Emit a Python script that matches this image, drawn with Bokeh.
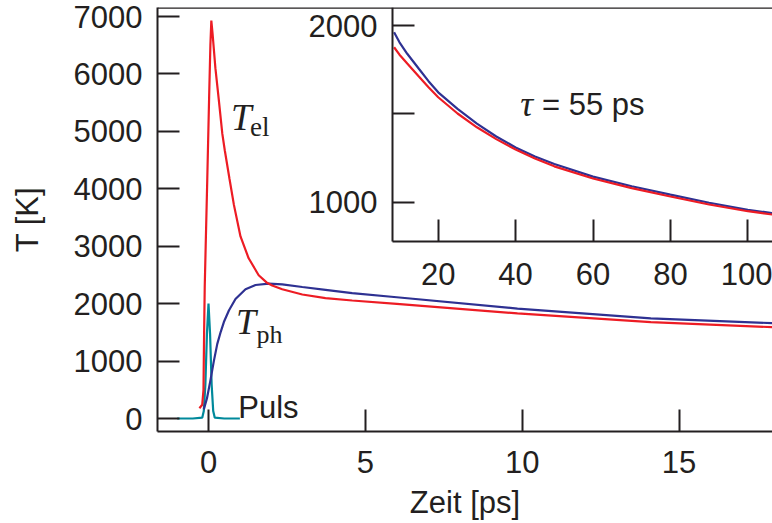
from bokeh.plotting import figure
from bokeh.models import Range1d, LinearAxis, FixedTicker, Label, Span
from bokeh.embed import file_html
from bokeh.resources import INLINE

# ---------------- data ----------------
# laser pulse
pulse_t = [-1.0, -0.5, -0.2, -0.15, -0.1, -0.05, 0.0, 0.05, 0.1, 0.15, 0.2, 0.5, 1.0]
pulse_T = [0, 0, 15, 130, 590, 1470, 2000, 1470, 590, 130, 15, 0, 0]

# electron temperature
tel_t = [-0.29, -0.20, -0.16, -0.14, -0.12, -0.09, -0.04, 0.02, 0.06, 0.09, 0.13, 0.22,
         0.33, 0.44, 0.52, 0.67, 0.81, 1.02, 1.28, 1.60, 1.85, 2.03, 2.35, 2.99, 3.73,
         4.58, 6.0, 9.85, 14.1, 18.0]
tel_T = [180, 240, 500, 1500, 2300, 3000, 4150, 5600, 6500, 6930, 6700, 6100,
         5540, 4960, 4667, 4170, 3720, 3170, 2790, 2495, 2370, 2316, 2250, 2160, 2097,
         2055, 1997, 1830, 1680, 1590]

# phonon (lattice) temperature
tph_t = [-0.15, -0.05, 0.06, 0.17, 0.28, 0.39, 0.49, 0.65, 0.86, 1.18, 1.50, 1.92,
         2.35, 2.99, 3.73, 4.58, 6.0, 9.85, 14.1, 18.0]
tph_T = [160, 350, 660, 1000, 1300, 1510, 1680, 1880, 2080, 2250, 2325, 2350,
         2335, 2290, 2240, 2182, 2112, 1915, 1745, 1660]

# inset: long time decay
inset_t = [8.6, 10, 12, 15, 17.5, 20, 25, 30, 35, 40, 45, 50, 60, 70, 80, 90, 100, 106.4]
inset_tph = [1962, 1905, 1840, 1755, 1685, 1622, 1528, 1445, 1372, 1310, 1259, 1216,
             1145, 1090, 1043, 997, 957, 938]
inset_tel = [1877, 1835, 1785, 1711, 1650, 1594, 1502, 1424, 1357, 1298, 1247, 1203,
             1134, 1080, 1032, 987, 949, 930]

x_ticks = [0, 5, 10, 15]
y_ticks = [0, 1000, 2000, 3000, 4000, 5000, 6000, 7000]
inset_x_ticks = [20, 40, 60, 80, 100]
inset_y_ticks = [1000, 1500, 2000]

# ---------------- styling ----------------
RED = "#ed1c24"
BLUE = "#2e3192"
CYAN = "#00899b"
INK = "#231f20"
SANS = "Liberation Sans"
SERIF = "Liberation Serif"
FS = "31px"

p = figure(width=772, height=523, output_backend="svg", toolbar_location=None,
           x_range=Range1d(-1.626, 17.98), y_range=Range1d(-226, 7157),
           min_border_left=157, min_border_right=0, min_border_top=7, min_border_bottom=92,
           background_fill_color="white", border_fill_color="white")
p.outline_line_color = None
p.xgrid.visible = False
p.ygrid.visible = False

# extra ranges for the inset (mapped onto the whole frame)
p.extra_x_ranges["ix"] = Range1d(-52.53, 106.38)
p.extra_y_ranges["iy"] = Range1d(-297.7, 2101.9)


def style_axis(ax):
    ax.axis_line_color = INK
    ax.axis_line_width = 2
    ax.major_tick_line_color = INK
    ax.major_tick_line_width = 2
    ax.major_tick_in = 22
    ax.major_tick_out = 0
    ax.minor_tick_line_color = None
    ax.major_label_text_font = SANS
    ax.major_label_text_font_size = FS
    ax.major_label_text_color = INK
    ax.axis_label_text_font = SANS
    ax.axis_label_text_font_size = FS
    ax.axis_label_text_font_style = "normal"
    ax.axis_label_text_color = INK


xa = p.xaxis[0]
style_axis(xa)
xa.ticker = FixedTicker(ticks=x_ticks)
xa.axis_label = "Zeit [ps]"
xa.major_label_standoff = 19
xa.axis_label_standoff = 9

ya = p.yaxis[0]
style_axis(ya)
ya.ticker = FixedTicker(ticks=y_ticks)
ya.axis_label = "T [K]"
ya.major_label_standoff = 15
ya.axis_label_standoff = 26

# top border line of the frame
p.add_layout(Span(location=7157, dimension="width", line_color=INK, line_width=2.5))

# inset axes
ix_axis = LinearAxis(x_range_name="ix", y_range_name="iy", fixed_location=777.6,
                     bounds=(8.19, 106.38), ticker=FixedTicker(ticks=inset_x_ticks))
style_axis(ix_axis)
ix_axis.major_label_standoff = 22
p.add_layout(ix_axis, "below")

iy_axis = LinearAxis(x_range_name="ix", y_range_name="iy", fixed_location=8.19,
                     bounds=(777.6, 2101.9), ticker=FixedTicker(ticks=inset_y_ticks),
                     major_label_overrides={1500: ""})
style_axis(iy_axis)
iy_axis.major_label_standoff = 15
p.add_layout(iy_axis, "left")

# main curves
p.line(pulse_t, pulse_T, line_color=CYAN, line_width=2.2)
p.line(tph_t, tph_T, line_color=BLUE, line_width=2.2)
p.line(tel_t, tel_T, line_color=RED, line_width=2.2)

# inset curves
p.line(inset_t, inset_tph, line_color=BLUE, line_width=2.2, x_range_name="ix", y_range_name="iy")
p.line(inset_t, inset_tel, line_color=RED, line_width=2.2, x_range_name="ix", y_range_name="iy")

# annotations
def lab(x, y, text, font, size, style="normal", **kw):
    p.add_layout(Label(x=x, y=y, text=text, text_font=font, text_font_size=size,
                       text_font_style=style, text_color=INK, text_baseline="alphabetic",
                       text_align="left", **kw))

lab(0.72, 5241, "T", SERIF, "37px", "italic")
lab(1.32, 5068, "el", SERIF, "27px")
lab(0.88, 1672, "T", SERIF, "36px", "italic")
lab(1.53, 1463, "ph", SERIF, "26px")
lab(0.95, 187, "Puls", SANS, FS)
lab(41.2, 1553, "\u03c4", SERIF, "36px", "italic", x_range_name="ix", y_range_name="iy")
lab(46.8, 1553, "= 55 ps", SANS, FS, x_range_name="ix", y_range_name="iy")

open("out.html", "w").write(file_html(p, INLINE))
